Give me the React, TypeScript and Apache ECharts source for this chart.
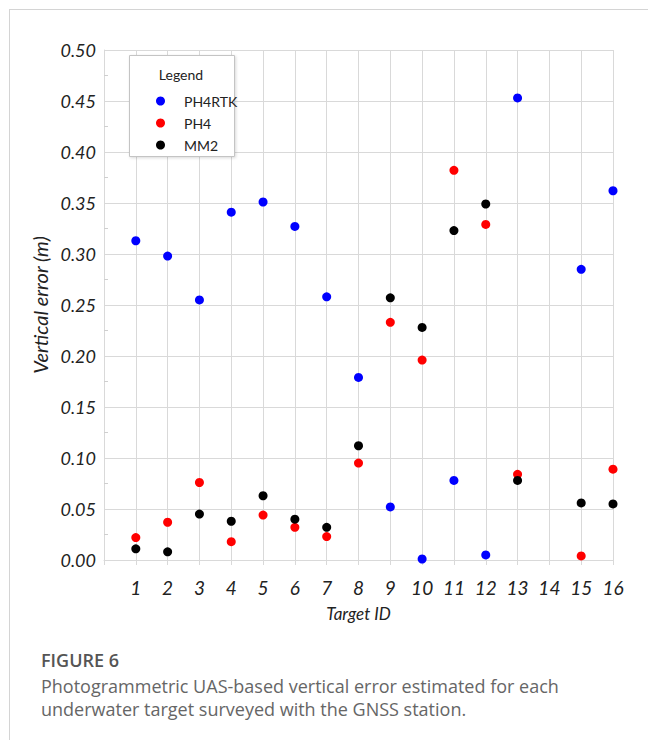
import React, { useEffect, useRef } from "react";
import * as echarts from "echarts";

const targetIds = [1, 2, 3, 4, 5, 6, 7, 8, 9, 10, 11, 12, 13, 15, 16];
const ph4rtk = [0.313, 0.298, 0.255, 0.341, 0.351, 0.327, 0.258, 0.179, 0.052, 0.001, 0.078, 0.005, 0.453, 0.285, 0.362];
const ph4 = [0.022, 0.037, 0.076, 0.018, 0.044, 0.032, 0.023, 0.095, 0.233, 0.196, 0.382, 0.329, 0.084, 0.004, 0.089];
const mm2 = [0.011, 0.008, 0.045, 0.038, 0.063, 0.040, 0.032, 0.112, 0.257, 0.228, 0.323, 0.349, 0.078, 0.056, 0.055];
const seriesNames = ["PH4RTK", "PH4", "MM2"];
const seriesColors = ["#0000ff", "#ff0000", "#000000"];
const yTicks = { min: 0, max: 0.5, interval: 0.05 };
const xTicks = { min: 0, max: 16, interval: 1 };
const captionTitle = "FIGURE 6";
const captionLines = [
  "Photogrammetric UAS-based vertical error estimated for each",
  "underwater target surveyed with the GNSS station.",
];

const FONT = "Lato, 'Open Sans', sans-serif";
const CAPFONT = "'Open Sans', sans-serif";

export default function App() {
  const ref = useRef<HTMLDivElement>(null);
  useEffect(() => {
    if (!ref.current) return;
    const chart = echarts.init(ref.current, undefined, { renderer: "svg" });
    const allSeries = [ph4rtk, ph4, mm2];
    chart.setOption({
      animation: false,
      backgroundColor: "#ffffff",
      grid: { left: 104, top: 50, width: 509, height: 510, containLabel: false },
      legend: {
        data: seriesNames,
        orient: "vertical",
        left: 151,
        top: 89,
        itemWidth: 9,
        itemHeight: 9,
        itemGap: 8,
        icon: "circle",
        z: 10,
        textStyle: { fontFamily: FONT, fontSize: 14, color: "#222", padding: [0, 0, 0, 14], lineHeight: 14 },
      },
      xAxis: {
        type: "value",
        min: xTicks.min,
        max: xTicks.max,
        interval: xTicks.interval,
        name: "Target ID",
        nameLocation: "middle",
        nameGap: 45,
        nameTextStyle: { fontFamily: FONT, fontStyle: "italic", fontSize: 17, color: "#222" },
        axisLine: { show: true, lineStyle: { color: "#d9d9d9" } },
        axisTick: { show: true, length: 5, lineStyle: { color: "#d9d9d9" } },
        axisLabel: {
          margin: 18,
          fontFamily: FONT,
          fontStyle: "italic",
          fontSize: 19,
          color: "#222",
          formatter: (v: number) => (v === 0 ? "" : String(v)),
        },
        splitLine: { show: true, lineStyle: { color: "#d9d9d9", width: 1 } },
      },
      yAxis: {
        type: "value",
        min: yTicks.min,
        max: yTicks.max,
        interval: yTicks.interval,
        name: "Vertical error (m)",
        nameLocation: "middle",
        nameGap: 44,
        nameTextStyle: { fontFamily: FONT, fontStyle: "italic", fontSize: 20, color: "#222" },
        axisLine: { show: true, lineStyle: { color: "#d9d9d9" } },
        axisTick: { show: true, inside: true, length: 4, lineStyle: { color: "#d9d9d9" } },
        minorTick: { show: true, splitNumber: 2, length: 4, lineStyle: { color: "#cfcfcf" } },
        axisLabel: {
          margin: 8,
          fontFamily: FONT,
          fontStyle: "italic",
          fontSize: 18,
          color: "#222",
          formatter: (v: number) => v.toFixed(2),
        },
        splitLine: { show: true, lineStyle: { color: "#d9d9d9", width: 1 } },
      },
      graphic: [
        { type: "line", shape: { x1: 9, y1: 9.5, x2: 648, y2: 9.5 }, style: { stroke: "#d4d4d4", lineWidth: 1 } },
        { type: "line", shape: { x1: 9.5, y1: 9, x2: 9.5, y2: 740 }, style: { stroke: "#d4d4d4", lineWidth: 1 } },
        {
          type: "rect",
          z: 5,
          shape: { x: 129.5, y: 55.5, width: 105, height: 101 },
          style: { fill: "#ffffff", stroke: "#c4c4c4", lineWidth: 1, shadowBlur: 3, shadowColor: "rgba(0,0,0,0.15)", shadowOffsetX: 1, shadowOffsetY: 1 },
        },
        {
          type: "text",
          z: 6,
          x: 181,
          y: 74,
          style: { text: "Legend", fontFamily: FONT, fontSize: 14, fill: "#222", align: "center", verticalAlign: "middle" },
        },
        {
          type: "text",
          x: 41,
          y: 660,
          style: { text: captionTitle, fontFamily: CAPFONT, fontSize: 18, fontWeight: 600, fill: "#555", verticalAlign: "middle" },
        },
        {
          type: "text",
          x: 41,
          y: 686,
          style: { text: captionLines[0], fontFamily: CAPFONT, fontSize: 18, fill: "#666", verticalAlign: "middle" },
        },
        {
          type: "text",
          x: 41,
          y: 709,
          style: { text: captionLines[1], fontFamily: CAPFONT, fontSize: 18, fill: "#666", verticalAlign: "middle" },
        },
      ],
      series: seriesNames.map((name, i) => ({
        name,
        type: "scatter",
        symbol: "circle",
        symbolSize: 9,
        itemStyle: { color: seriesColors[i], opacity: 1 },
        z: 3,
        data: targetIds.map((t, j) => [t, allSeries[i][j]]),
      })),
    });
    return () => chart.dispose();
  }, []);
  return <div ref={ref} style={{ position: "absolute", left: 0, top: 0, width: 648, height: 740 }} />;
}
